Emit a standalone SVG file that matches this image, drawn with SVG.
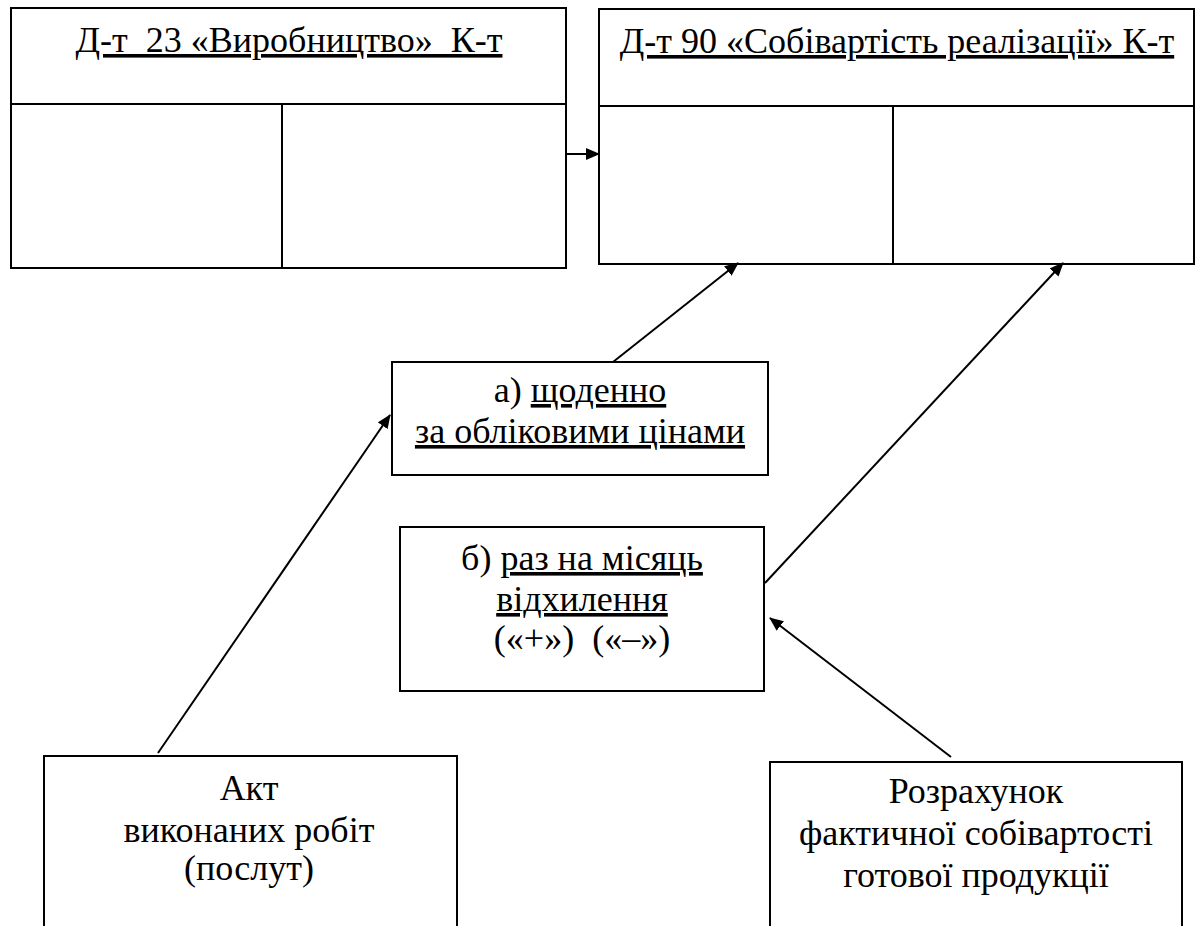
<svg xmlns="http://www.w3.org/2000/svg" width="1199" height="926" viewBox="0 0 1199 926">
<defs>
<style>
.b{fill:#fff;stroke:#000;stroke-width:2}
.l{stroke:#000;stroke-width:2;fill:none}
.t{font-family:'Liberation Serif','Times New Roman',serif;font-size:36px;fill:#000;text-anchor:middle}
.u{text-decoration:underline}
.c{stroke:#000;stroke-width:2;fill:none;marker-end:url(#ah)}
</style>
<marker id="ah" markerWidth="14" markerHeight="12" refX="13" refY="6" orient="auto" markerUnits="userSpaceOnUse">
<path d="M0,0 L14,6 L0,12 Z" fill="#000"/>
</marker>
</defs>
<rect width="1199" height="926" fill="#fff"/>
<g id="acc23">
<rect class="b" x="11" y="8" width="555" height="260"/>
<line class="l" x1="11" y1="104" x2="566" y2="104"/>
<line class="l" x1="282" y1="104" x2="282" y2="268"/>
<text class="t u" x="289" y="52" xml:space="preserve">Д-т  23 «Виробництво»  К-т</text>
</g>
<g id="acc90">
<rect class="b" x="599" y="9" width="595" height="255"/>
<line class="l" x1="599" y1="106" x2="1194" y2="106"/>
<line class="l" x1="893" y1="106" x2="893" y2="264"/>
<text class="t u" x="897" y="53">Д-т 90 «Собівартість реалізації» К-т</text>
</g>
<g id="daily">
<rect class="b" x="392" y="362" width="376" height="113"/>
<text class="t" x="580" y="402">а) <tspan class="u">щоденно</tspan></text>
<text class="t u" x="580" y="443">за обліковими цінами</text>
</g>
<g id="monthly">
<rect class="b" x="400" y="527" width="364" height="164"/>
<text class="t" x="582" y="570">б) <tspan class="u">раз на місяць</tspan></text>
<text class="t u" x="582" y="611">відхилення</text>
<text class="t" x="582" y="650" xml:space="preserve">(«+»)  («–»)</text>
</g>
<g id="act">
<rect class="b" x="44" y="756" width="413" height="190"/>
<text class="t" x="249" y="800">Акт</text>
<text class="t" x="249" y="842">виконаних робіт</text>
<text class="t" x="249" y="880">(послут)</text>
</g>
<g id="calc">
<rect class="b" x="770" y="762" width="412" height="184"/>
<text class="t" x="976" y="803">Розрахунок</text>
<text class="t" x="976" y="845">фактичної собівартості</text>
<text class="t" x="976" y="887">готової продукції</text>
</g>
<g id="connectors">
<line class="c" x1="566" y1="154" x2="599" y2="154"/>
<line class="c" x1="613" y1="362" x2="738" y2="263"/>
<line class="c" x1="765" y1="583" x2="1063" y2="263"/>
<line class="c" x1="158" y1="753" x2="390" y2="415"/>
<line class="c" x1="951" y1="757" x2="770" y2="618"/>
</g>
</svg>
